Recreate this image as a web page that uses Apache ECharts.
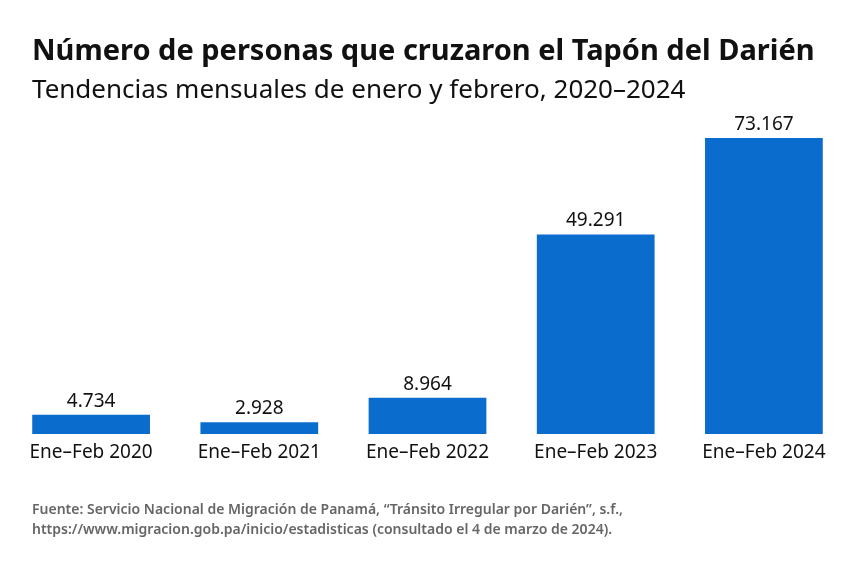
<!DOCTYPE html>
<html>
<head>
<meta charset="utf-8">
<script src="https://cdn.jsdelivr.net/npm/echarts@6/dist/echarts.min.js"></script>
<style>
  html, body { margin: 0; padding: 0; background: #fff; }
  #chart { width: 855px; height: 570px; }
</style>
</head>
<body>
<div id="chart"></div>
<script>
// datos
var categories = ['Ene–Feb 2020', 'Ene–Feb 2021', 'Ene–Feb 2022', 'Ene–Feb 2023', 'Ene–Feb 2024'];
var personas = [4734, 2928, 8964, 49291, 73167];

var titulo = 'Número de personas que cruzaron el Tapón del Darién';
var subtitulo = 'Tendencias mensuales de enero y febrero, 2020–2024';
var fuente = 'Fuente: Servicio Nacional de Migración de Panamá, “Tránsito Irregular por Darién”, s.f.,\nhttps://www.migracion.gob.pa/inicio/estadisticas (consultado el 4 de marzo de 2024).';

var FONT = '"Noto Sans", "Open Sans", sans-serif';

// formato con punto de miles
function miles(v) {
  return String(v).replace(/\B(?=(\d{3})+(?!\d))/g, '.');
}

var myChart = echarts.init(document.getElementById('chart'));

var options = {
  backgroundColor: '#fff',
  animation: false,
  title: [{
    text: titulo,
    left: 27,
    top: 32,
    textStyle: { fontFamily: FONT, fontSize: 29, fontWeight: 'bold', color: '#111' }
  }, {
    text: subtitulo,
    left: 27,
    top: 73,
    textStyle: { fontFamily: FONT, fontSize: 26, fontWeight: 'normal', color: '#111' }
  }, {
    text: fuente,
    left: 27,
    top: 495,
    textStyle: { fontFamily: FONT, fontSize: 14, fontWeight: 600, color: '#666', lineHeight: 20 }
  }],
  grid: {
    left: 7,
    right: 7,
    top: 138,
    bottom: 136
  },
  xAxis: {
    type: 'category',
    data: categories,
    axisLine: { show: false },
    axisTick: { show: false },
    axisLabel: {
      margin: 9,
      fontFamily: FONT,
      fontSize: 19,
      color: '#111'
    }
  },
  yAxis: {
    type: 'value',
    min: 0,
    max: 73167,
    show: false,
    splitLine: { show: false }
  },
  series: [{
    type: 'bar',
    data: personas,
    barCategoryGap: '30%',
    itemStyle: { color: '#0a6ccc' },
    label: {
      show: true,
      position: 'top',
      distance: 4,
      fontFamily: FONT,
      fontSize: 19,
      color: '#111',
      formatter: function (p) { return miles(p.value); }
    }
  }]
};

myChart.setOption(options);
</script>
</body>
</html>
